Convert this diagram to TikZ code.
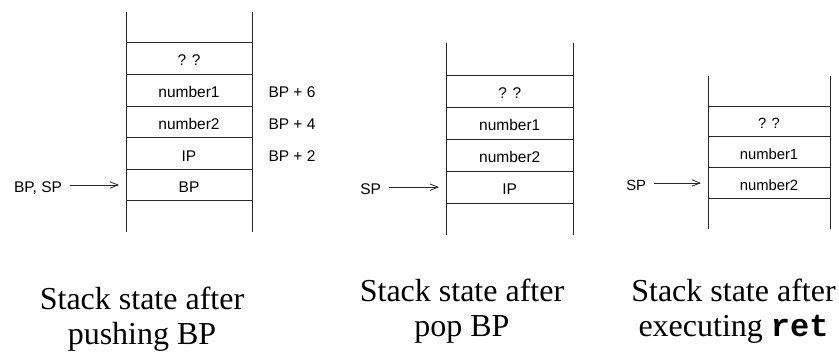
\documentclass[tikz,border=0pt]{standalone}
\usepackage{fontspec}
\setmainfont{Liberation Serif}
\newfontfamily\labfont{Liberation Sans}
\newfontfamily\codefont{Liberation Mono}
\usetikzlibrary{arrows.meta}
\begin{document}
\begin{tikzpicture}[x=1pt,y=-1pt,
  stackline/.style={line width=0.9pt, black!85},
  ptr/.style={line width=0.8pt, black!85, -{Straight Barb[length=8pt,width=6.5pt,line width=0.8pt]}, shorten <=8pt, shorten >=7pt},
  lab/.style={inner sep=0pt, outer sep=0pt, text height=15pt, text depth=0pt, font=\labfont\fontsize{15.5}{18}\selectfont},
  labs/.style={inner sep=0pt, outer sep=0pt, text height=14.5pt, text depth=0pt, font=\labfont\fontsize{14.8}{17}\selectfont},
  cellA/.style={lab, minimum width=126pt, minimum height=31.6pt},
  cellB/.style={lab, minimum width=127.5pt, minimum height=32pt},
  cellC/.style={labs, minimum width=122pt, minimum height=30.7pt},
  caption/.style={anchor=north, align=center, inner sep=0pt, font=\fontsize{32}{35}\selectfont}
]
\useasboundingbox (0,0) rectangle (839,353);

% ---------- stack 1 ----------
\draw[stackline] (126,11.7) -- (126,232.3);
\draw[stackline] (252,11.7) -- (252,232.3);
\foreach \yy in {42.7,74.3,106,137.7,169.3,200.7}
  \draw[stackline] (126,\yy) -- (252,\yy);
\node[cellA] (a1) at (189,58.5) {? ?};
\node[cellA] (a2) at (189,90.15) {number1};
\node[cellA] (a3) at (189,121.85) {number2};
\node[cellA] (a4) at (189,153.5) {IP};
\node[cellA] (a5) at (189,185) {BP};
\node[lab] (o6) at (292,90.15) {BP + 6};
\node[lab] (o4) at (292,121.85) {BP + 4};
\node[lab] (o2) at (292,153.5) {BP + 2};
\node[lab, anchor=east] (p1) at (62,185) {BP, SP};
\draw[ptr] (p1.east) -- (a5.west);

% ---------- stack 2 ----------
\draw[stackline] (446,43.3) -- (446,235);
\draw[stackline] (573.5,43.3) -- (573.5,235);
\foreach \yy in {75.7,107.3,139.3,171.3,203}
  \draw[stackline] (446,\yy) -- (573.5,\yy);
\node[cellB] (b1) at (509.75,91.5) {? ?};
\node[cellB] (b2) at (509.75,123.3) {number1};
\node[cellB] (b3) at (509.75,155.3) {number2};
\node[cellB] (b4) at (509.75,187.15) {IP};
\node[lab, anchor=east] (p2) at (381,187.15) {SP};
\draw[ptr] (p2.east) -- (b4.west);

% ---------- stack 3 ----------
\draw[stackline] (708,76) -- (708,229.3);
\draw[stackline] (830,76) -- (830,229.3);
\foreach \yy in {106,136.7,167.3,198.7}
  \draw[stackline] (708,\yy) -- (830,\yy);
\node[cellC] (c1) at (769,121.35) {? ?};
\node[cellC] (c2) at (769,152) {number1};
\node[cellC] (c3) at (769,183) {number2};
\node[labs, anchor=east] (p3) at (646,183) {SP};
\draw[ptr] (p3.east) -- (c3.west);

% ---------- captions ----------
\node[caption] (t1) at (142,287) {Stack state after\\pushing BP};
\node[caption] (t2) at (462,279) {Stack state after\\pop BP};
\node[caption] (t3) at (733.5,279) {Stack state after\\executing {\codefont\bfseries ret}};
\end{tikzpicture}
\end{document}
